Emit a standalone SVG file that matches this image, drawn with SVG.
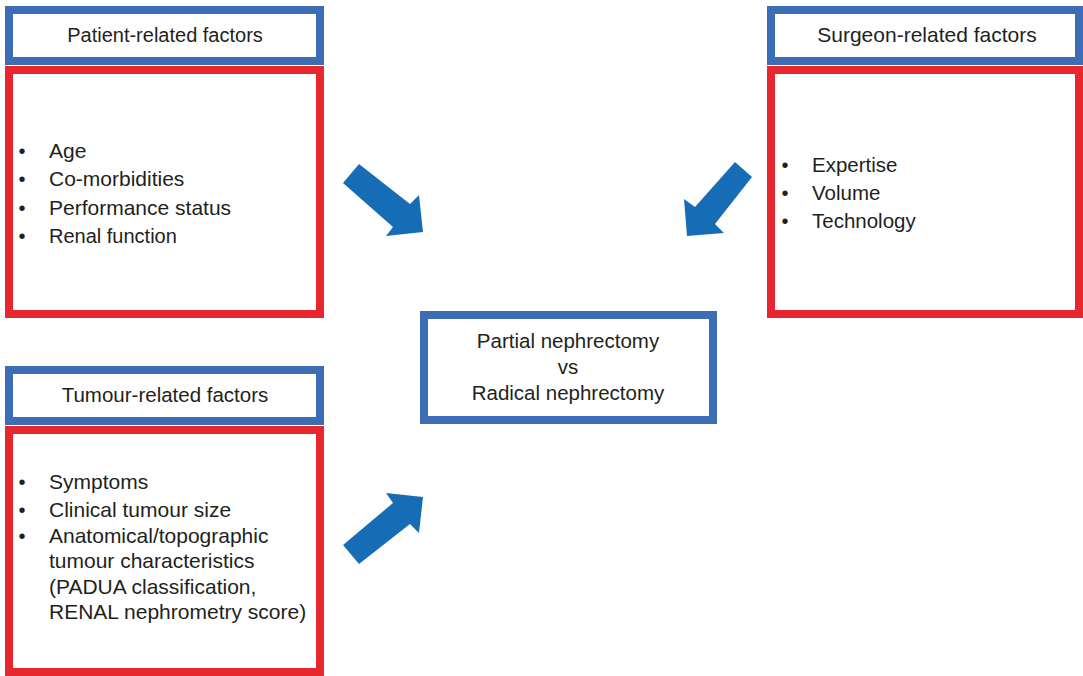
<svg xmlns="http://www.w3.org/2000/svg" width="1083" height="676" viewBox="0 0 1083 676">
<style>
.hdr{fill:#fff;stroke:#3d6db4;stroke-width:8}
.body{fill:#fff;stroke:#e8262e;stroke-width:8}
text{font-family:"Liberation Sans",Arial,sans-serif;font-size:21px;fill:#231f20}
.c{text-anchor:middle}
.b{text-anchor:middle;font-size:20px}
.arrow{fill:#176db5}
</style>
<rect width="1083" height="676" fill="#fff"/>
<g id="patient-header">
<rect class="hdr" x="9" y="10" width="311" height="51"/>
<text class="c" x="165" y="42" style="font-size:20px">Patient-related factors</text>
</g>
<g id="patient-body">
<rect class="body" x="9" y="70" width="311" height="244"/>
<text class="b" x="22" y="158">•</text><text x="49" y="158">Age</text>
<text class="b" x="22" y="186">•</text><text x="49" y="186">Co-morbidities</text>
<text class="b" x="22" y="215">•</text><text x="49" y="215">Performance status</text>
<text class="b" x="22" y="243">•</text><text x="49" y="243" style="font-size:20px">Renal function</text>
</g>
<g id="surgeon-header">
<rect class="hdr" x="771" y="10" width="308" height="51"/>
<text class="c" x="927" y="42">Surgeon-related factors</text>
</g>
<g id="surgeon-body" style="font-size:20.5px">
<rect class="body" x="771" y="70" width="308" height="244"/>
<text class="b" x="785" y="172">•</text><text x="812" y="172" style="font-size:20.5px">Expertise</text>
<text class="b" x="785" y="200">•</text><text x="812" y="200" style="font-size:20.5px">Volume</text>
<text class="b" x="785" y="228">•</text><text x="812" y="228" style="font-size:20.5px">Technology</text>
</g>
<g id="tumour-header">
<rect class="hdr" x="9" y="370" width="311" height="51"/>
<text class="c" x="165" y="402" style="font-size:20.5px">Tumour-related factors</text>
</g>
<g id="tumour-body">
<rect class="body" x="9" y="430" width="311" height="242"/>
<text class="b" x="22" y="489">•</text><text x="49" y="489">Symptoms</text>
<text class="b" x="22" y="517">•</text><text x="49" y="517">Clinical tumour size</text>
<text class="b" x="22" y="543">•</text><text x="49" y="543">Anatomical/topographic</text>
<text x="49" y="568">tumour characteristics</text>
<text x="49" y="594">(PADUA classification,</text>
<text x="49" y="619">RENAL nephrometry score)</text>
</g>
<g id="decision">
<rect class="hdr" x="424" y="315" width="289" height="105"/>
<text class="c" x="568" y="348" style="font-size:20.5px">Partial nephrectomy</text>
<text class="c" x="568" y="374" style="font-size:20.5px">vs</text>
<text class="c" x="568" y="400" style="font-size:20.5px">Radical nephrectomy</text>
</g>
<g id="connectors">
<polygon class="arrow" points="343,183 359,164 410,204 419,195 423,232 386,236 393,227"/>
<polygon class="arrow" points="735,162 752,177 715,224 724,233 687,236 684,199 695,207"/>
<polygon class="arrow" points="343,545 393,503 386,493 423,497 419,533 410,524 359,564"/>
</g>
</svg>
